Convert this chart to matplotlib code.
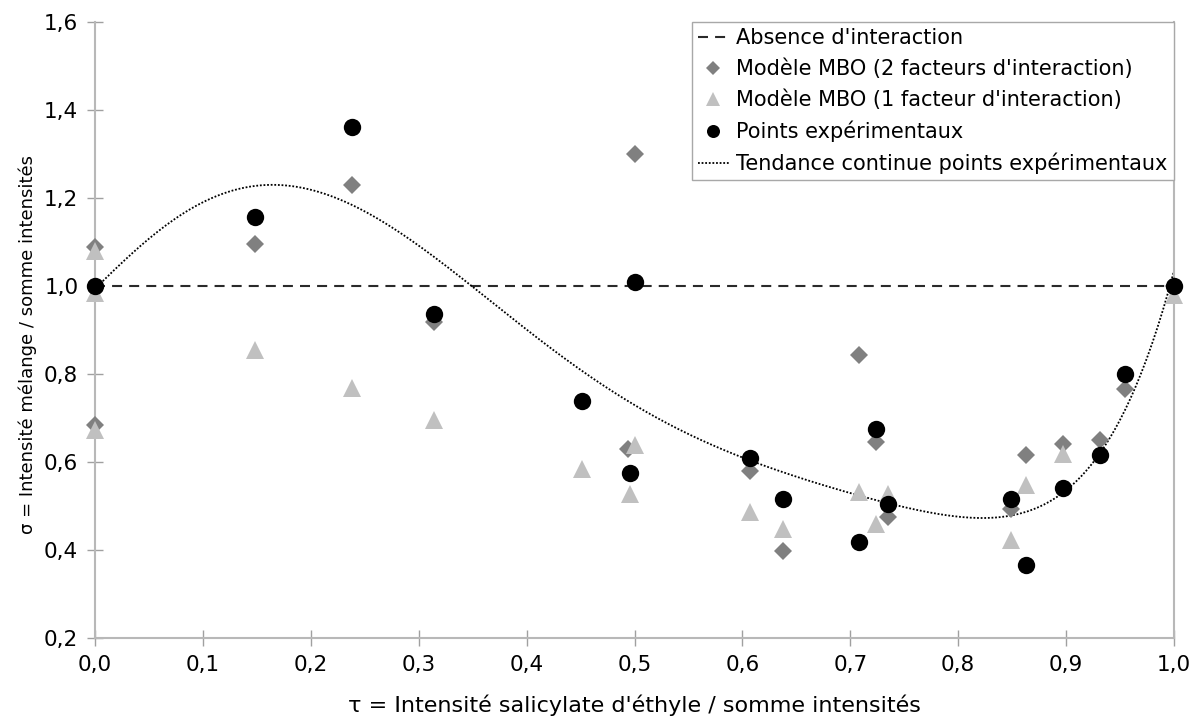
import numpy as np
import matplotlib
matplotlib.use("Agg")
import matplotlib.pyplot as plt
from matplotlib.ticker import FuncFormatter, MultipleLocator

plt.rcParams['font.family'] = ['DejaVu Sans']

# Experimental points
exp_t = [0.0, 0.148, 0.238, 0.314, 0.451, 0.496, 0.500, 0.607, 0.638, 0.708, 0.7235, 0.735, 0.849, 0.863, 0.897, 0.931, 0.955, 1.0]
exp_s = [1.0, 1.157, 1.361, 0.937, 0.739, 0.576, 1.009, 0.609, 0.515, 0.418, 0.674, 0.505, 0.517, 0.365, 0.541, 0.615, 0.799, 1.0]

# MBO model, 2 interaction factors
dia_t = [0.0, 0.0, 0.148, 0.238, 0.314, 0.494, 0.500, 0.607, 0.638, 0.708, 0.7235, 0.735, 0.849, 0.863, 0.897, 0.931, 0.955, 1.0]
dia_s = [1.089, 0.683, 1.095, 1.230, 0.918, 0.630, 1.301, 0.579, 0.398, 0.844, 0.645, 0.475, 0.494, 0.615, 0.640, 0.649, 0.767, 1.0]

# MBO model, 1 interaction factor
tri_t = [0.0, 0.0, 0.0, 0.148, 0.238, 0.314, 0.451, 0.5005, 0.496, 0.607, 0.638, 0.708, 0.7235, 0.735, 0.849, 0.863, 0.897, 1.0]
tri_s = [1.079, 0.985, 0.672, 0.854, 0.769, 0.695, 0.583, 0.638, 0.528, 0.486, 0.447, 0.532, 0.460, 0.528, 0.422, 0.547, 0.619, 0.979]

no_inter_t = [0.0, 1.0]
no_inter_s = [1.0, 1.0]

trend_degree = 6

labels = ["Absence d'interaction",
          "Modèle MBO (2 facteurs d'interaction)",
          "Modèle MBO (1 facteur d'interaction)",
          "Points expérimentaux",
          "Tendance continue points expérimentaux"]
xlabel = "τ = Intensité salicylate d'éthyle / somme intensités"
ylabel = "σ = Intensité mélange / somme intensités"

fig = plt.figure(figsize=(11.91, 7.21), dpi=100)
ax = fig.add_axes([95/1191, 1 - 638/721, (1174 - 95)/1191, (638 - 22)/721])

# trend line: polynomial least-squares fit of experimental points
coef = np.polyfit(exp_t, exp_s, trend_degree)
tt = np.linspace(0, 1, 400)

h_dash, = ax.plot(no_inter_t, no_inter_s, color='#2a2a2a', lw=1.5, dashes=(4.8, 3.4), zorder=2)
h_dot, = ax.plot(tt, np.polyval(coef, tt), color='black', lw=1.3, linestyle=(0, (1, 1)), zorder=2)
h_dia, = ax.plot(dia_t, dia_s, 'D', color='#808080', ms=9, mew=0, ls='none', zorder=3, clip_on=False)
h_tri, = ax.plot(tri_t, tri_s, '^', color='#c0c0c0', ms=13, mew=0, ls='none', zorder=4, clip_on=False)
h_exp, = ax.plot(exp_t, exp_s, 'o', color='black', ms=12.5, mew=0, ls='none', zorder=5, clip_on=False)

ax.set_xlim(0, 1)
ax.set_ylim(0.2, 1.6)
ax.xaxis.set_major_locator(MultipleLocator(0.1))
ax.yaxis.set_major_locator(MultipleLocator(0.2))
fmt = FuncFormatter(lambda v, p: f"{v:.1f}".replace('.', ','))
ax.xaxis.set_major_formatter(fmt)
ax.yaxis.set_major_formatter(fmt)

spine_col = '#b8b8b8'
for s in ['left', 'right', 'bottom']:
    ax.spines[s].set_color(spine_col)
    ax.spines[s].set_linewidth(1.5)
ax.spines['top'].set_visible(False)
ax.tick_params(axis='both', direction='inout', length=12, width=1, color='#a0a0a0',
               labelsize=15.5, pad=6)

ax.set_xlabel(xlabel, fontsize=16)
ax.set_ylabel(ylabel, fontsize=13)
ax.xaxis.set_label_coords(0.5, -0.092)
ax.yaxis.set_label_coords(-0.054, 0.476)

leg = ax.legend([h_dash, h_dia, h_tri, h_exp, h_dot], labels, loc='upper right',
                bbox_to_anchor=(1.0, 1.0), borderaxespad=0, fontsize=15,
                fancybox=False, framealpha=1, edgecolor='#a8a8a8',
                handlelength=1.5, handletextpad=0.35, labelspacing=0.5,
                borderpad=0.3, markerscale=0.75)
leg.get_frame().set_linewidth(1.0)
leg.set_zorder(10)

fig.savefig("out.png", dpi=100)
